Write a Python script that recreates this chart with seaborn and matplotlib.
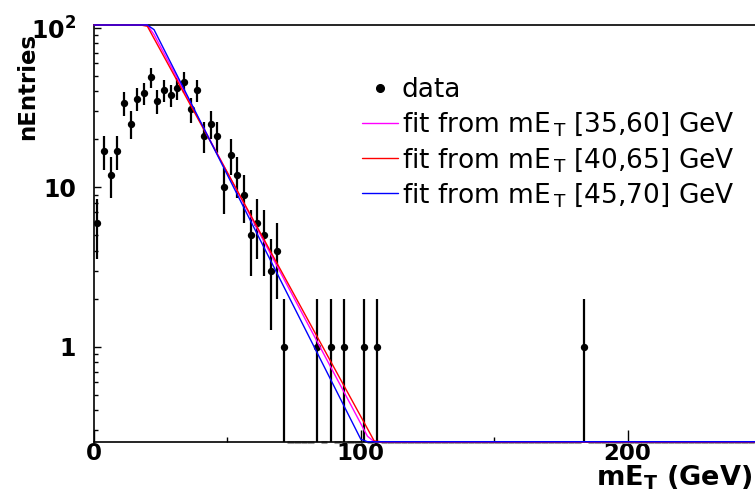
import numpy as np
import pandas as pd
import matplotlib
matplotlib.use("Agg")
import matplotlib.pyplot as plt
from matplotlib.lines import Line2D
from matplotlib.ticker import FixedLocator, FixedFormatter, NullFormatter
import seaborn as sns

# ---------------- data ----------------
met_centers = [1.25, 3.75, 6.25, 8.75, 11.25, 13.75, 16.25, 18.75, 21.25, 23.75,
               26.25, 28.75, 31.25, 33.75, 36.25, 38.75, 41.25, 43.75, 46.25, 48.75,
               51.25, 53.75, 56.25, 58.75, 61.25, 63.75, 66.25, 68.75, 71.25,
               83.75, 88.75, 93.75, 101.25, 106.25, 183.75]
counts = [6, 17, 12, 17, 34, 25, 36, 39, 49, 35,
          41, 38, 42, 46, 31, 41, 21, 25, 21, 10,
          16, 12, 9, 5, 6, 5, 3, 4, 1,
          1, 1, 1, 1, 1, 1]
bin_width = 2.5
n_bins = 100
first_empty_bin = 29

fit_labels = [r"fit from mE$_{\,\mathrm{T}}$ [35,60] GeV",
              r"fit from mE$_{\,\mathrm{T}}$ [40,65] GeV",
              r"fit from mE$_{\,\mathrm{T}}$ [45,70] GeV"]
fit_p0 = [6.143, 6.040, 6.300]        # expo: exp(p0 + p1*x)
fit_p1 = [-0.07253, -0.07046, -0.07635]
fit_colors = ["#ff00ff", "#ff0000", "#0000ff"]

x_range = (0.0, 250.0)
y_range = (0.254, 104.5)
xtick_major = [0, 100, 200]
xtick_major_labels = ["0", "100", "200"]
xtick_minor = [50, 150, 250]
ytick_major = [1, 10, 100]
ytick_major_labels = ["1", "10", r"$\mathbf{10^{2}}$"]
ytick_minor = [0.3, 0.4, 0.5, 0.6, 0.7, 0.8, 0.9,
               2, 3, 4, 5, 6, 7, 8, 9,
               20, 30, 40, 50, 60, 70, 80, 90]

# ---------------- style ----------------
sns.set_theme(style="white")
plt.rcParams["font.family"] = ["DejaVu Sans"]
plt.rcParams["mathtext.fontset"] = "dejavusans"

W, H = 755, 493
fig = plt.figure(figsize=(W / 100, H / 100), dpi=100)
ax_l, ax_r, ax_t, ax_b = 94, 761, 25, 441.7
ax = fig.add_axes([ax_l / W, 1 - ax_b / H, (ax_r - ax_l) / W, (ax_b - ax_t) / H])
ax.set_yscale("log", nonpositive="clip")
ax.set_xlim(*x_range)
ax.set_ylim(*y_range)

df = pd.DataFrame({"met": met_centers, "n": counts})
err = np.sqrt(df["n"].to_numpy(dtype=float))
lower = np.where(df["n"] - err > 0, err, df["n"] - 1e-4)

# empty bins drawn at the bottom edge (grey)
occupied = set(int(round((c - bin_width / 2) / bin_width)) for c in met_centers)
for b in range(first_empty_bin, n_bins):
    if b not in occupied:
        ax.hlines(y_range[0], b * bin_width, (b + 1) * bin_width,
                  color="#9a9a9a", lw=2.2, zorder=1, clip_on=False)

# error bars
ax.errorbar(df["met"], df["n"], yerr=[lower, err], fmt="none",
            ecolor="black", elinewidth=1.6, capsize=0, zorder=3)
# markers
sns.scatterplot(data=df, x="met", y="n", ax=ax, color="black", s=28,
                edgecolor="black", linewidth=0, zorder=4, legend=False)

# fit curves (ROOT-like, 100 points, clipped to frame)
xf = np.linspace(x_range[0], x_range[1], 101)
for p0, p1, c in zip(fit_p0, fit_p1, fit_colors):
    yf = np.clip(np.exp(p0 + p1 * xf), y_range[0], y_range[1])
    sns.lineplot(x=xf, y=yf, ax=ax, color=c, lw=1.0, zorder=5,
                 sort=False, estimator=None, clip_on=False)

# ---------------- axes ----------------
for s in ["left", "bottom", "top", "right"]:
    ax.spines[s].set_color("black")
    ax.spines[s].set_linewidth(1.2)

ax.xaxis.set_major_locator(FixedLocator(xtick_major))
ax.xaxis.set_major_formatter(FixedFormatter(xtick_major_labels))
ax.xaxis.set_minor_locator(FixedLocator(xtick_minor))
ax.xaxis.set_minor_formatter(NullFormatter())
ax.yaxis.set_major_locator(FixedLocator(ytick_major))
ax.yaxis.set_major_formatter(FixedFormatter(ytick_major_labels))
ax.yaxis.set_minor_locator(FixedLocator(ytick_minor))
ax.yaxis.set_minor_formatter(NullFormatter())

ax.tick_params(axis="x", which="major", direction="in", length=8.6, width=1.0,
               pad=0, labelsize=16.5, bottom=True, top=False, color="black")
ax.tick_params(axis="x", which="minor", direction="in", length=3.8, width=1.0,
               bottom=True, top=False, color="black")
ax.tick_params(axis="y", which="major", direction="in", length=5, width=1.0,
               pad=13, labelsize=17, left=True, right=False, color="black")
ax.tick_params(axis="y", which="minor", direction="in", length=3, width=1.0,
               left=True, right=False, color="black")
for lab in ax.get_xticklabels() + ax.get_yticklabels():
    lab.set_fontweight("bold")
    lab.set_color("black")

ax.set_xlabel(r"mE$_{\mathbf{T}}$ (GeV)", fontsize=19.5, fontweight="bold",
              color="black", ha="right", va="top")
ax.xaxis.set_label_coords((752 - ax_l) / (ax_r - ax_l), -(464 - ax_b) / (ax_b - ax_t))
ax.set_ylabel("nEntries", fontsize=16.5, fontweight="bold", color="black",
              ha="right", va="center")
ax.yaxis.set_label_coords((28 - ax_l) / (ax_r - ax_l), (ax_b - 33) / (ax_b - ax_t))

# ---------------- legend ----------------
handles = [Line2D([], [], marker="o", color="black", ls="none", markersize=5.5)]
handles += [Line2D([], [], color=c, lw=1.0) for c in fit_colors]
labels = ["data"] + fit_labels
leg = ax.legend(handles, labels, loc="upper left",
                bbox_to_anchor=(362 / W, 1 - 77 / H), bbox_transform=fig.transFigure,
                frameon=False, borderpad=0, borderaxespad=0,
                handlelength=1.35, handletextpad=0.15, labelspacing=0.28,
                fontsize=19)
for t in leg.get_texts():
    t.set_color("black")

fig.savefig("out.png", dpi=100)
